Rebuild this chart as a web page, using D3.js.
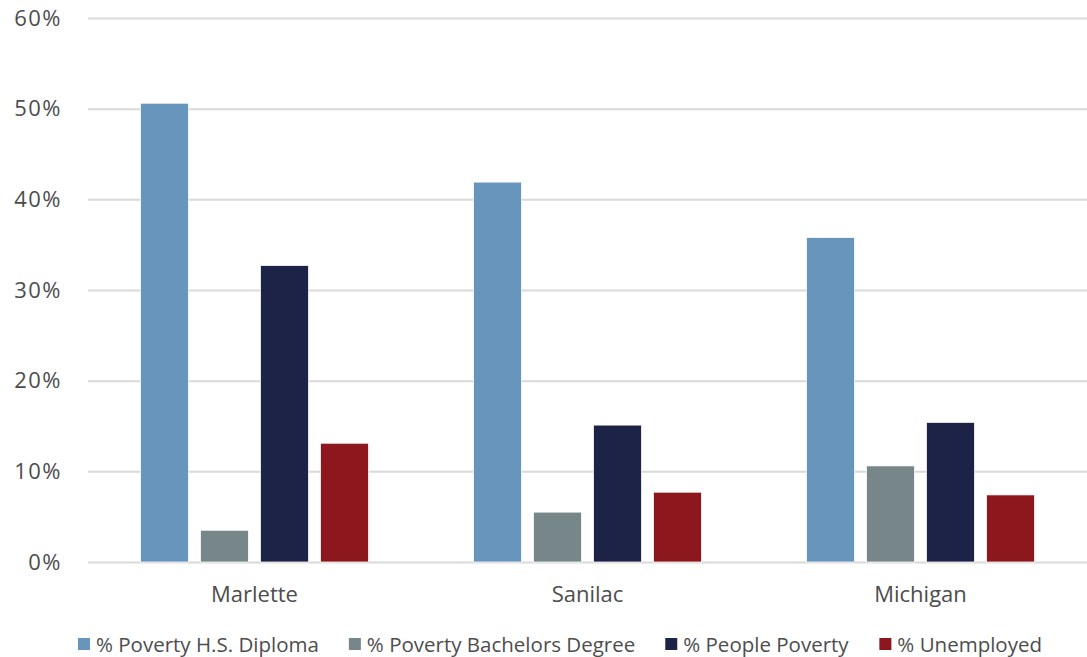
<!DOCTYPE html>
<html>
<head>
    <title>Poverty and unemployment</title>
    <script src="https://d3js.org/d3.v7.min.js"></script>
    <style>
    body { margin: 0; background: #fff; }
    text { font-family: "Open Sans", "Noto Sans", sans-serif; fill: #4d4d4d; }
    </style>
</head>
<body>
<script type="text/javascript">

// categories and series
const categories = ["Marlette", "Sanilac", "Michigan"];
const seriesNames = ["% Poverty H.S. Diploma", "% Poverty Bachelors Degree", "% People Poverty", "% Unemployed"];
const hsDiploma = [50.6, 41.9, 35.8];
const bachelors = [3.5, 5.5, 10.6];
const peoplePoverty = [32.7, 15.1, 15.4];
const unemployed = [13.1, 7.7, 7.4];
const yTicks = [0, 10, 20, 30, 40, 50, 60];

const seriesValues = [hsDiploma, bachelors, peoplePoverty, unemployed];
const colors = ["#6795bc", "#778789", "#1d2346", "#8c171c"];

const width = 1087, height = 657;
const svg = d3.select("body").append("svg")
    .attr("width", width)
    .attr("height", height);

//scales
const x0 = d3.scaleBand()
    .domain(categories)
    .range([88, 1087])
    .padding(0);

const x1 = d3.scaleBand()
    .domain(seriesNames)
    .range([-114, 114])
    .paddingInner(0.2)
    .paddingOuter(0);

const y = d3.scaleLinear()
    .domain([0, 60])
    .range([562, 18]);

//gridlines + y labels
const yAxis = d3.axisLeft(y)
    .tickValues(yTicks)
    .tickSize(-(1087 - 88))
    .tickPadding(26)
    .tickFormat(d => d + "%");

svg.append("g")
    .attr("transform", "translate(88,0)")
    .call(yAxis)
    .call(g => g.select(".domain").remove())
    .call(g => g.selectAll(".tick line").attr("stroke", "#d9d9d9").attr("stroke-width", 2))
    .call(g => g.selectAll(".tick text")
        .style("font-size", "22px")
        .style("font-family", "'Open Sans', sans-serif")
        .style("letter-spacing", "1.5px")
        .attr("fill", "#4d4d4d"));

//bars
const data = [];
categories.forEach(function(c, i){
    seriesNames.forEach(function(s, j){
        data.push({cat: c, series: s, value: seriesValues[j][i], color: colors[j]});
    });
});

svg.append("g").selectAll("rect")
    .data(data)
    .join("rect")
    .attr("x", d => x0(d.cat) + x0.bandwidth() / 2 + x1(d.series))
    .attr("width", x1.bandwidth())
    .attr("y", d => y(d.value))
    .attr("height", d => y(0) - y(d.value))
    .attr("fill", d => d.color)
    .attr("stroke", "#fff")
    .attr("stroke-width", 0.75);

//category labels
svg.append("g").selectAll("text")
    .data(categories)
    .join("text")
    .attr("x", d => x0(d) + x0.bandwidth() / 2)
    .attr("y", 602)
    .attr("text-anchor", "middle")
    .style("font-size", "22px")
    .text(d => d);

//legend
const legend = svg.append("g").attr("class", "legend");
const items = legend.selectAll("g")
    .data(seriesNames)
    .join("g");
items.append("rect")
    .attr("width", 12)
    .attr("height", 12)
    .attr("y", 638)
    .attr("fill", (d, i) => colors[i]);
items.append("text")
    .attr("x", 18)
    .attr("y", 652)
    .style("font-size", "20.5px")
    .text(d => d);

let offsets = [], pos = 0;
items.each(function(){
    offsets.push(pos);
    pos += this.getBBox().width + 30;
});
const total = pos - 30;
const startX = 560 - total / 2;
items.attr("transform", (d, i) => "translate(" + (startX + offsets[i]) + ",0)");

</script>
</body>
</html>
